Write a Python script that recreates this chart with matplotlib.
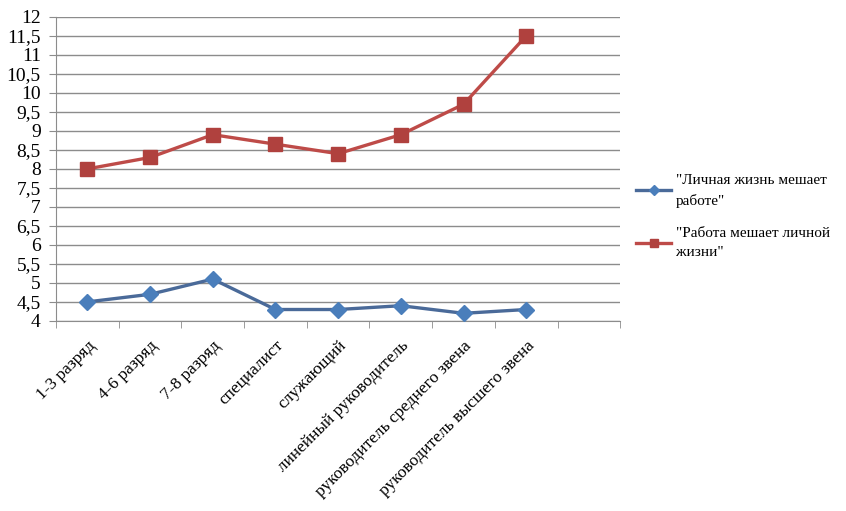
import matplotlib.pyplot as plt
from matplotlib.ticker import MultipleLocator, FuncFormatter, FixedLocator

categories = ["1-3 разряд", "4-6 разряд", "7-8 разряд", "специалист", "служающий",
              "линейный руководитель", "руководитель среднего звена",
              "руководитель высшего звена"]
life_hinders_work = [4.5, 4.7, 5.1, 4.3, 4.3, 4.4, 4.2, 4.3]
work_hinders_life = [8.0, 8.3, 8.9, 8.65, 8.4, 8.9, 9.7, 11.5]
labels = ['"Личная жизнь мешает\nработе"', '"Работа мешает личной\nжизни"']

plt.rcParams['font.family'] = ['Liberation Serif', 'DejaVu Serif']

fig = plt.figure(figsize=(8.46, 5.11), dpi=100)
ax = fig.add_axes([0.0662, 0.372, 0.667, 0.595])

x = list(range(len(categories)))
ax.plot(x, life_hinders_work, color='#4A6A99', lw=2.4, marker='D', ms=8,
        mfc='#4A7EBB', mec='#4A7EBB', label=labels[0], zorder=3)
ax.plot(x, work_hinders_life, color='#BE4B48', lw=2.4, marker='s', ms=10,
        mfc='#B0413E', mec='#B0413E', label=labels[1], zorder=3)

ax.set_xlim(-0.5, len(categories) + 0.5)
ax.set_ylim(4, 12)
ax.yaxis.set_major_locator(MultipleLocator(0.5))
ax.yaxis.set_major_formatter(FuncFormatter(lambda v, p: f"{v:g}".replace('.', ',')))
ax.grid(axis='y', color='#8C8C8C', lw=1)
ax.set_axisbelow(True)

ax.set_xticks(x)
ax.set_xticklabels(categories, rotation=45, ha='right', rotation_mode='anchor', fontsize=12.5)
ax.xaxis.set_minor_locator(FixedLocator([i - 0.5 for i in range(len(categories) + 2)]))
ax.tick_params(axis='x', which='major', length=0, pad=12)
ax.tick_params(axis='x', which='minor', length=5, color='#8C8C8C', direction='out')
ax.tick_params(axis='y', length=5, color='#8C8C8C', labelsize=14, pad=6)

for s in ['top', 'right']:
    ax.spines[s].set_visible(False)
for s in ['left', 'bottom']:
    ax.spines[s].set_color('#8C8C8C')

leg = ax.legend(loc='upper left', bbox_to_anchor=(636 / 846, 1 - 174 / 511),
                bbox_transform=fig.transFigure, frameon=False, fontsize=11,
                handlelength=2.3, handletextpad=0.3, labelspacing=1.3,
                borderaxespad=0, borderpad=0, markerscale=0.6)
for t in leg.get_texts():
    t.set_linespacing(1.6)

fig.savefig('out.png', dpi=100)
